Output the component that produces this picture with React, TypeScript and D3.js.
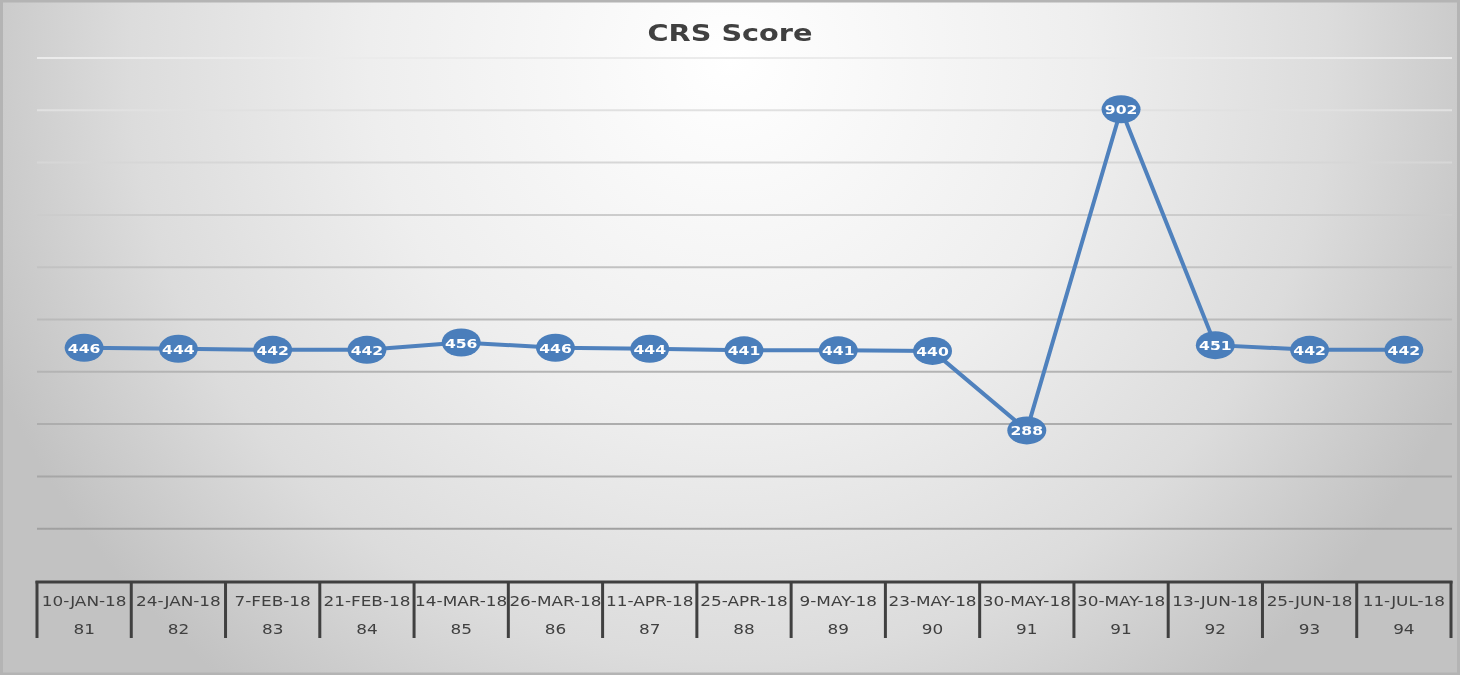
import React from "react";
import * as d3 from "d3";

const dates = ["10-JAN-18","24-JAN-18","7-FEB-18","21-FEB-18","14-MAR-18","26-MAR-18","11-APR-18","25-APR-18","9-MAY-18","23-MAY-18","30-MAY-18","30-MAY-18","13-JUN-18","25-JUN-18","11-JUL-18"];
const draws = ["81","82","83","84","85","86","87","88","89","90","91","91","92","93","94"];
const scores = [446,444,442,442,456,446,444,441,441,440,288,902,451,442,442];
const gridValues = [100,200,300,400,500,600,700,800,900,1000];

const W = 1460, H = 675;
const FONT = "'DejaVu Sans', Verdana, sans-serif";
const SX = 1.25;

export default function App() {
  const idx = scores.map((_, i) => i);
  const x = d3.scaleBand<number>().domain(idx).range([37, 1451]).padding(0);
  const y = d3.scaleLinear().domain([0, 1000]).range([581, 58]);
  const cx = (i: number) => (x(i) as number) + x.bandwidth() / 2;
  const line = d3.line<number>().x((_, i) => cx(i)).y(d => y(d));
  const bounds = d3.range(idx.length + 1).map(i => 37 + i * x.bandwidth());

  return (
    <div style={{ position: "fixed", left: 0, top: 0, width: W, height: H }}>
      <svg width={W} height={H} style={{ display: "block" }}>
        <defs>
          <radialGradient id="bg" gradientUnits="userSpaceOnUse" cx={730} cy={60} r={800}>
            <stop offset="0" stopColor="#ffffff" />
            <stop offset="0.45" stopColor="#eeeeee" />
            <stop offset="0.75" stopColor="#dcdcdc" />
            <stop offset="1" stopColor="#c2c2c2" />
          </radialGradient>
          <linearGradient id="grid" gradientUnits="userSpaceOnUse" x1={0} y1={58} x2={0} y2={530}>
            <stop offset="0" stopColor="#ebebeb" />
            <stop offset="0.5" stopColor="#bdbdbd" />
            <stop offset="1" stopColor="#a0a0a0" />
          </linearGradient>
        </defs>
        <rect x={0} y={0} width={W} height={H} fill="url(#bg)" />
        <rect x={1.5} y={1} width={W - 3} height={H - 2} fill="none" stroke="#b4b4b4" strokeWidth={3} />
        <g transform={`translate(730,41) scale(${SX},1)`}>
          <text textAnchor="middle" fontFamily={FONT} fontWeight="bold" fontSize={23} fill="#404040">CRS Score</text>
        </g>
        {gridValues.map(v => (
          <line key={v} x1={37} x2={1452} y1={y(v)} y2={y(v)} stroke="url(#grid)" strokeWidth={2} />
        ))}
        <line x1={35.5} x2={1452.5} y1={582} y2={582} stroke="#404040" strokeWidth={3} />
        {bounds.map((b, i) => (
          <line key={i} x1={b} x2={b} y1={581} y2={638} stroke="#404040" strokeWidth={3} />
        ))}
        {idx.map(i => (
          <g key={i}>
            <g transform={`translate(${cx(i)},606) scale(${SX},1)`}>
              <text textAnchor="middle" fontFamily={FONT} fontSize={13.5} fill="#404040">{dates[i]}</text>
            </g>
            <g transform={`translate(${cx(i)},634) scale(${SX},1)`}>
              <text textAnchor="middle" fontFamily={FONT} fontSize={13.5} fill="#404040">{draws[i]}</text>
            </g>
          </g>
        ))}
        <path d={line(scores) || ""} fill="none" stroke="#4f81bd" strokeWidth={4} strokeLinejoin="round" />
        {scores.map((s, i) => (
          <g key={i}>
            <ellipse cx={cx(i)} cy={y(s)} rx={19.5} ry={14} fill="#4a7ebb" />
            <g transform={`translate(${cx(i)},${y(s) + 5}) scale(${SX},1)`}>
              <text textAnchor="middle" fontFamily={FONT} fontWeight="bold" fontSize={12.5} fill="#ffffff">{s}</text>
            </g>
          </g>
        ))}
      </svg>
    </div>
  );
}
